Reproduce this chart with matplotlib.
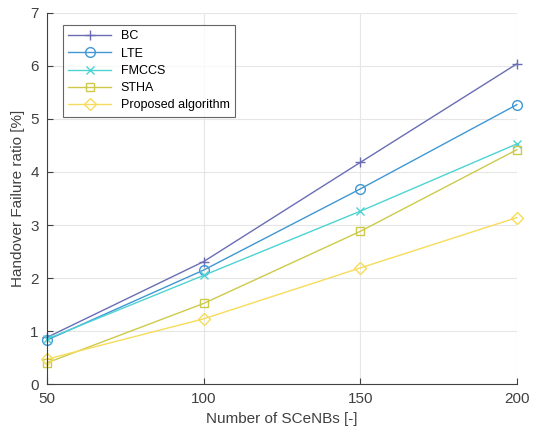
import matplotlib
matplotlib.use('Agg')
import matplotlib.pyplot as plt

plt.rcParams['font.family'] = ['Liberation Sans', 'DejaVu Sans']

# 데이터
scenbs = [50, 100, 150, 200]
bc = [0.88, 2.31, 4.18, 6.04]
lte = [0.83, 2.15, 3.68, 5.27]
fmccs = [0.85, 2.05, 3.26, 4.53]
stha = [0.40, 1.52, 2.88, 4.42]
proposed = [0.47, 1.23, 2.19, 3.14]

fig = plt.figure(figsize=(5.37, 4.32), dpi=100)
ax = fig.add_axes([0.0875, 0.111, 0.875, 0.859])

style = dict(lw=1, clip_on=False)
ax.plot(scenbs, bc, color='#6a6db4', marker='+', markersize=7, label='BC', **style)
ax.plot(scenbs, lte, color='#3f97d4', marker='o', markersize=7, mfc='none', label='LTE', **style)
ax.plot(scenbs, fmccs, color='#4dd3d3', marker='x', markersize=6, label='FMCCS', **style)
ax.plot(scenbs, stha, color='#cdca4a', marker='s', markersize=6, mfc='none', label='STHA', **style)
ax.plot(scenbs, proposed, color='#f6dc5a', marker='D', markersize=6, mfc='none',
        label='Proposed algorithm', **style)

ax.set_xlim(50, 200)
ax.set_ylim(0, 7)
ax.set_xticks([50, 100, 150, 200])
ax.set_yticks(range(0, 8))
ax.grid(True, color='#e6e6e6', lw=0.8)
ax.set_axisbelow(True)
for s in ['top', 'right']:
    ax.spines[s].set_visible(False)
for s in ['left', 'bottom']:
    ax.spines[s].set_color('#404040')
ax.tick_params(direction='in', colors='#404040', labelsize=11, length=4)
ax.tick_params(axis='x', pad=6)
ax.tick_params(axis='y', pad=6)

ax.set_xlabel('Number of SCeNBs [-]', fontsize=11, color='#404040')
ax.set_ylabel('Handover Failure ratio [%]', fontsize=11, color='#404040')

leg = ax.legend(loc='upper left', bbox_to_anchor=(0.02, 0.985), fancybox=False,
                fontsize=9, handlelength=3.4, borderpad=0.45, labelspacing=0.42)
leg.get_frame().set_edgecolor('#404040')
leg.get_frame().set_linewidth(0.8)

fig.savefig('out.png', dpi=100)
